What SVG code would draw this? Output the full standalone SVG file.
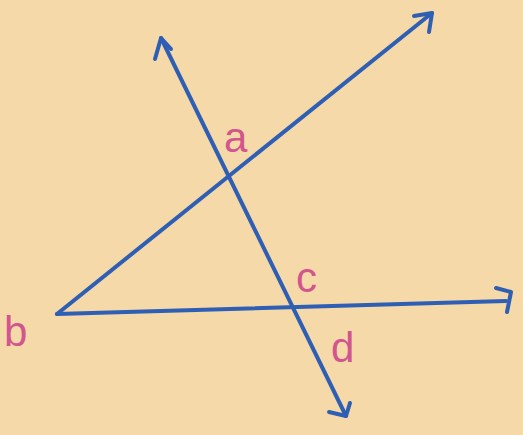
<svg xmlns="http://www.w3.org/2000/svg" width="523" height="435" viewBox="0 0 523 435">
<style>
.ln{fill:none;stroke:#2e5fb4;stroke-width:4;stroke-linecap:round;stroke-linejoin:round}
.lb{fill:#d2558e;font-family:"Liberation Sans",sans-serif;font-size:42px}
</style>
<rect width="523" height="435" fill="#f5d9a8"/>
<g id="connectors">
<path class="ln" d="M57,314 L432,13"/>
<path class="ln" d="M414,16 L432,13 L429,32"/>
<path class="ln" d="M57,314 L506,301"/>
<path class="ln" d="M496,288 L511,292 L507,312"/>
<path class="ln" d="M161,38 L346,416"/>
<path class="ln" d="M155,59 L161,38 L171,49"/>
<path class="ln" d="M329,412 L346,416 L350,403"/>
</g>
<g id="a"><text class="lb" x="224" y="152">a</text></g>
<g id="b"><text class="lb" x="4" y="346" font-size="62">b</text></g>
<g id="c"><text class="lb" x="296" y="292">c</text></g>
<g id="d"><text class="lb" x="331" y="362">d</text></g>
</svg>
